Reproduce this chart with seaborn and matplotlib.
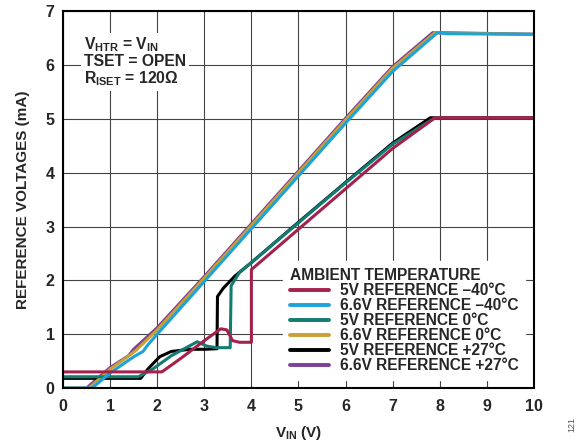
import seaborn as sns
import matplotlib.pyplot as plt
import pandas as pd

# series
x_5v_m40 = [0, 2.1, 2.5, 3.0, 3.35, 3.48, 3.6, 3.75, 4.0, 4.0, 5.0, 6.0, 7.0, 7.9, 8.1, 10]
y_5v_m40 = [0.30, 0.30, 0.55, 0.88, 1.10, 1.08, 0.88, 0.85, 0.85, 2.2, 2.95, 3.70, 4.45, 5.02, 5.02, 5.02]

x_66v_m40 = [0, 0.62, 1.0, 1.5, 1.7, 1.8, 2.0, 3, 4, 5, 6, 7, 7.95, 8.15, 10]
y_66v_m40 = [0, 0, 0.28, 0.58, 0.68, 0.80, 1.0, 1.98, 2.96, 3.94, 4.92, 5.88, 6.60, 6.58, 6.57]

x_5v_0 = [0, 1.6, 1.9, 2.3, 2.85, 3.05, 3.25, 3.55, 3.57, 3.75, 4.0, 5, 6, 7, 7.9, 8.1, 10]
y_5v_0 = [0.21, 0.21, 0.35, 0.60, 0.86, 0.78, 0.75, 0.75, 1.90, 2.15, 2.33, 3.07, 3.81, 4.53, 5.02, 5.02, 5.02]

x_66v_0 = [0, 0.55, 1.0, 1.4, 1.55, 2.0, 3, 4, 5, 6, 7, 7.9, 8.05, 10]
y_66v_0 = [0, 0, 0.35, 0.60, 0.70, 1.08, 2.04, 3.02, 4.00, 4.98, 5.94, 6.60, 6.59, 6.57]

x_5v_27 = [0, 1.65, 1.8, 2.05, 2.3, 2.7, 3.0, 3.27, 3.28, 3.4, 3.65, 4.0, 5, 6, 7, 7.8, 8.0, 10]
y_5v_27 = [0.18, 0.18, 0.35, 0.58, 0.68, 0.72, 0.72, 0.73, 1.70, 1.85, 2.08, 2.33, 3.08, 3.82, 4.55, 5.02, 5.02, 5.02]

x_66v_27 = [0, 0.5, 1.0, 1.39, 1.5, 2.0, 3, 4, 5, 6, 7, 7.85, 8.0, 10]
y_66v_27 = [0, 0, 0.38, 0.60, 0.72, 1.12, 2.07, 3.05, 4.03, 5.01, 5.97, 6.60, 6.60, 6.57]

labels = ["5V REFERENCE \u201340\u00b0C", "6.6V REFERENCE \u201340\u00b0C", "5V REFERENCE 0\u00b0C",
          "6.6V REFERENCE 0\u00b0C", "5V REFERENCE +27\u00b0C", "6.6V REFERENCE +27\u00b0C"]
colors = ["#A3224C", "#1CA3D8", "#127B72", "#C9A033", "#000000", "#7E3F96"]
xs = [x_5v_m40, x_66v_m40, x_5v_0, x_66v_0, x_5v_27, x_66v_27]
ys = [y_5v_m40, y_66v_m40, y_5v_0, y_66v_0, y_5v_27, y_66v_27]

sns.set_theme(style="white")
plt.rcParams['font.family'] = ['Liberation Sans', 'DejaVu Sans']
plt.rcParams['font.weight'] = 'bold'
plt.rcParams['mathtext.fontset'] = 'custom'
plt.rcParams['mathtext.rm'] = 'Liberation Sans:bold'
plt.rcParams['mathtext.it'] = 'Liberation Sans:bold'
plt.rcParams['mathtext.bf'] = 'Liberation Sans:bold'

fig = plt.figure(figsize=(5.81, 4.44), dpi=100)
ax = fig.add_axes([0.1084, 0.126, 0.8107, 0.849])

# draw in reverse so the first legend entries sit on top
for i in reversed(range(6)):
    df = pd.DataFrame({"x": xs[i], "y": ys[i]})
    sns.lineplot(data=df, x="x", y="y", ax=ax, color=colors[i], lw=2.2,
                 sort=False, estimator=None, label=labels[i])
h, l = ax.get_legend_handles_labels()
order = [l.index(s) for s in labels]

ax.set_xlim(0, 10)
ax.set_ylim(0, 7)
ax.set_xticks(range(0, 11))
ax.set_yticks(range(0, 8))
ax.grid(True, color="#444444", lw=0.8)
ax.set_axisbelow(True)
for s in ax.spines.values():
    s.set_color("black")
    s.set_linewidth(1.5)
ax.tick_params(axis="x", labelsize=11.5, direction="in", length=3, pad=8)
ax.tick_params(axis="y", labelsize=11.5, direction="in", length=3, pad=6)
for t in ax.get_xticklabels() + ax.get_yticklabels():
    t.set_fontweight("bold")

ax.set_xlabel(r"V$_{\mathrm{IN}}$ (V)", fontsize=11, fontweight="bold", labelpad=7)
ax.set_ylabel("REFERENCE VOLTAGES (mA)", fontsize=11, fontweight="bold", labelpad=11)

ax.text(0.045, 0.935, "V$_{\\mathrm{HTR}}$ = V$_{\\mathrm{IN}}$\nTSET = OPEN\nR$_{\\mathrm{ISET}}$ = 120\u03a9",
        transform=ax.transAxes, fontsize=11.3, fontweight="bold", va="top", ha="left",
        linespacing=1.0,
        bbox=dict(facecolor="white", edgecolor="none", pad=2))

leg = ax.legend([h[i] for i in order], [l[i] for i in order], title="AMBIENT TEMPERATURE",
                loc="lower right", bbox_to_anchor=(0.998, 0.0), frameon=True,
                fancybox=False, edgecolor="white", framealpha=1,
                fontsize=11.2, title_fontsize=11.2, handlelength=2.5,
                labelspacing=0.0, borderpad=0.45, handletextpad=0.7)
leg._legend_box.align = "left"
leg.get_title().set_fontweight("bold")
for t in leg.get_texts():
    t.set_fontweight("bold")
for ln in leg.get_lines():
    ln.set_linewidth(2.8)

fig.text(0.985, 0.045, "121", rotation=90, fontsize=6.5, color="#555555",
         fontweight="normal", ha="center", va="center")

fig.savefig("out.png", dpi=100)
